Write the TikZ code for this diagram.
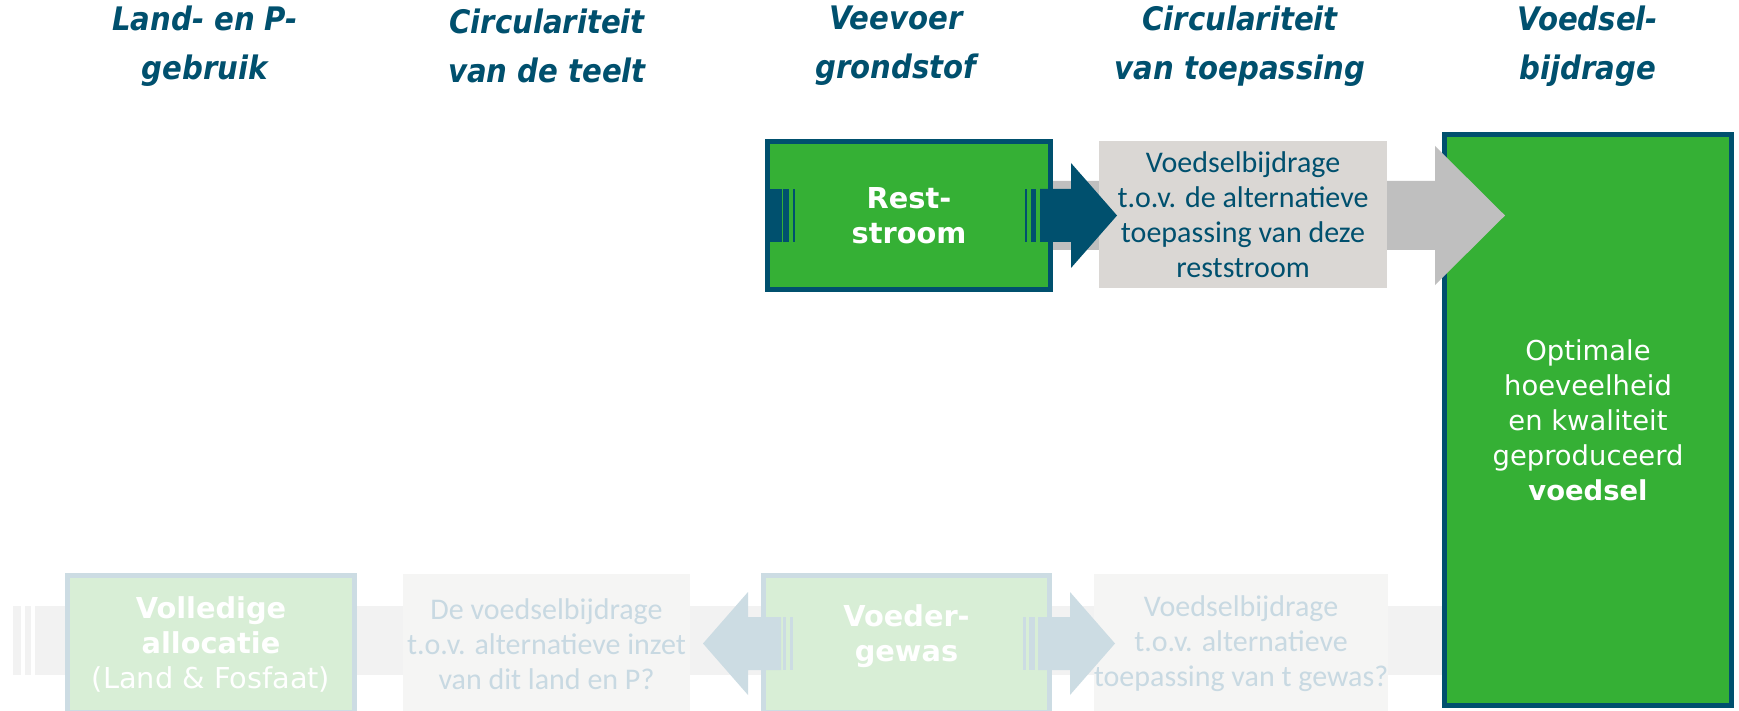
\documentclass[tikz,border=0pt]{standalone}
\usepackage{fontspec}
\setmainfont{DejaVu Sans}
\newfontfamily\calibri{Carlito}
\newfontfamily\headfont{DejaVu Sans Condensed}

\definecolor{darkblue}{HTML}{00506E}
\definecolor{boxgreen}{HTML}{35B035}
\definecolor{notegrey}{HTML}{DAD7D4}
\definecolor{arrowgrey}{HTML}{BFBFBF}
\definecolor{bandgrey}{HTML}{F2F2F2}
\definecolor{fadeblue}{HTML}{CCDCE3}
\definecolor{fadegreen}{HTML}{D8EED6}
\definecolor{fadegrey}{HTML}{F5F5F4}
\definecolor{fadetext}{HTML}{C8D9E2}

\begin{document}
\begin{tikzpicture}[x=0.5pt,y=-0.5pt,
  head/.style={text=darkblue,align=center,font=\headfont\bfseries\itshape\fontsize{16.2}{24.5}\selectfont},
  mainbox/.style={draw=darkblue,line width=2.5pt,fill=boxgreen,text=white,align=center,inner sep=0pt},
  notebox/.style={fill=notegrey,text=darkblue,align=center,inner sep=0pt,font=\calibri\fontsize{15}{17.5}\selectfont},
  fadebox/.style={draw=fadeblue,line width=2.5pt,fill=fadegreen,text=white,align=center,inner sep=0pt},
  fadenote/.style={fill=fadegrey,text=fadetext,align=center,inner sep=0pt,font=\calibri\fontsize{15}{17.5}\selectfont},
  boldtxt/.style={font=\bfseries\fontsize{14.4}{17.5}\selectfont}]
  \fill[white] (0,0) rectangle (1739,711);
  \useasboundingbox (0,0) rectangle (1739,711);

  % kolomkoppen
  \node[head] (h1) at (205,46) {Land- en P-\\gebruik};
  \node[head] (h2) at (547,46) {Circulariteit\\van de teelt};
  \node[head] (h3) at (896,46) {Veevoer\\grondstof};
  \node[head] (h4) at (1240,46) {Circulariteit\\van toepassing};
  \node[head] (h5) at (1588,46) {Voedsel-\\bijdrage};

  % onderste band (vervaagd)
  \fill[bandgrey] (35,606) rectangle (1444,675);
  \fill[bandgrey] (13,606) rectangle (21,675);
  \fill[bandgrey] (25,606) rectangle (31,675);

  \node[mainbox,minimum width=143.5pt,minimum height=285.5pt,
    font=\fontsize{13.7}{17.5}\selectfont] (food) at (1588,420)
    {Optimale\\hoeveelheid\\ en kwaliteit\\geproduceerd\\\textbf{voedsel}};

  % bovenste pijl
  \fill[arrowgrey] (1053,181) -- (1435,181) -- (1435,146) -- (1505,215.5)
    -- (1435,285) -- (1435,250) -- (1053,250) -- cycle;
  \node[notebox,minimum width=144pt,minimum height=73.5pt] (alt) at (1243,214.5)
    {Voedselbijdrage\\t.o.v. de alternatieve\\toepassing van deze\\reststroom};
  \node[mainbox,boldtxt,minimum width=141.5pt,minimum height=74pt] (rest) at (909,215.5)
    {Rest-\\stroom};
  \fill[darkblue] (767,189) rectangle (782,242);
  \fill[darkblue] (783,189) rectangle (789,242);
  \fill[darkblue] (793,189) rectangle (795,242);
  \fill[darkblue] (1025,189) rectangle (1027,242);
  \fill[darkblue] (1031,189) rectangle (1036,242);
  \fill[darkblue] (1040,189) -- (1071,189) -- (1071,163) -- (1117,215.5)
    -- (1071,268) -- (1071,242) -- (1040,242) -- cycle;

  % onderste rij
  \node[fadebox,boldtxt,minimum width=143.5pt,minimum height=68.5pt] (alloc) at (211,644)
    {Volledige\\allocatie\\\mdseries(Land \& Fosfaat)};
  \node[fadenote,minimum width=143.5pt,minimum height=70pt] (land) at (546.5,644)
    {De voedselbijdrage\\t.o.v. alternatieve inzet\\van dit land en P?};
  \node[fadebox,minimum width=143pt,minimum height=68.5pt] (crop) at (906.5,644) {};
  \node[text=white,boldtxt,align=center] (croptxt) at (906.5,636) {Voeder-\\gewas};
  \node[fadenote,minimum width=144pt,minimum height=70pt] (use) at (1241,644)
    {Voedselbijdrage\\t.o.v. alternatieve\\toepassing van t gewas?};
  \fill[fadeblue] (781,617) -- (748,617) -- (748,592) -- (703,643.5)
    -- (748,695) -- (748,670) -- (781,670) -- cycle;
  \fill[fadeblue] (783,617) rectangle (786,670);
  \fill[fadeblue] (790,617) rectangle (793,670);
  \fill[fadeblue] (1023,617) rectangle (1026,670);
  \fill[fadeblue] (1029,617) rectangle (1035,670);
  \fill[fadeblue] (1038,617) -- (1070,617) -- (1070,592) -- (1115,643.5)
    -- (1070,695) -- (1070,670) -- (1038,670) -- cycle;
\end{tikzpicture}
\end{document}
